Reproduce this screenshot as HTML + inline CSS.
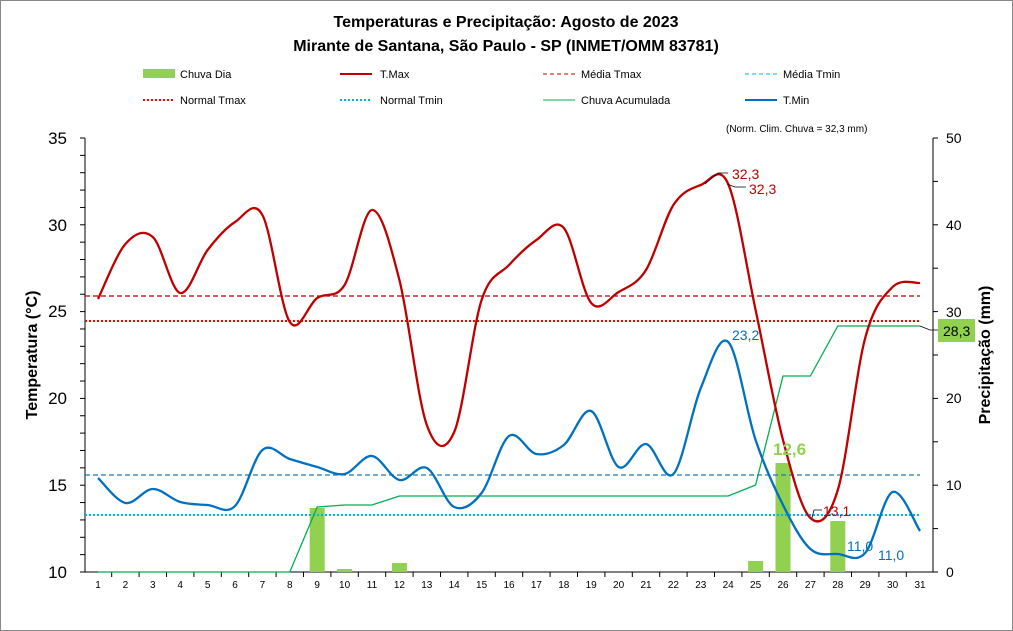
<!DOCTYPE html>
<html><head><meta charset="utf-8"><style>
html,body{margin:0;padding:0;background:#fff}
svg{display:block;font-family:"Liberation Sans",sans-serif}
</style></head><body>
<svg id="s" width="1013" height="631" viewBox="0 0 1013 631" xmlns="http://www.w3.org/2000/svg">
<rect x="0.5" y="0.5" width="1012" height="630" fill="#fff" stroke="#888"/>
<text x="506" y="27" text-anchor="middle" font-size="16" font-weight="bold">Temperaturas e Precipitação: Agosto de 2023</text>
<text x="506" y="51" text-anchor="middle" font-size="16" font-weight="bold">Mirante de Santana, São Paulo - SP (INMET/OMM 83781)</text>
<g font-size="11">
<rect x="143" y="69" width="32" height="9" fill="#92d050"/><text x="180" y="78">Chuva Dia</text>
<line x1="340" y1="74" x2="372" y2="74" stroke="#c00000" stroke-width="2"/><text x="380" y="78">T.Max</text>
<line x1="543" y1="74" x2="575" y2="74" stroke="#c00000" stroke-dasharray="4,3"/><text x="581" y="78">Média Tmax</text>
<line x1="745" y1="74" x2="777" y2="74" stroke="#00b0f0" stroke-dasharray="4,3"/><text x="783" y="78">Média Tmin</text>
<line x1="143" y1="100" x2="175" y2="100" stroke="#ff0000" stroke-width="2" stroke-dasharray="2,2"/><text x="180" y="104">Normal Tmax</text>
<line x1="340" y1="100" x2="372" y2="100" stroke="#00b0f0" stroke-width="2" stroke-dasharray="2,2"/><text x="380" y="104">Normal Tmin</text>
<line x1="543" y1="100" x2="575" y2="100" stroke="#00b050"/><text x="581" y="104">Chuva Acumulada</text>
<line x1="745" y1="100" x2="777" y2="100" stroke="#0070c0" stroke-width="2"/><text x="783" y="104">T.Min</text>
<text x="726" y="132" font-size="10">(Norm. Clim. Chuva = 32,3 mm)</text>
</g>
<g id="ax" stroke="#000"></g>
<g font-size="17" text-anchor="end">
<text x="67" y="144">35</text><text x="67" y="231">30</text><text x="67" y="317">25</text><text x="67" y="404">20</text><text x="67" y="491">15</text><text x="67" y="578">10</text>
</g>
<g font-size="14" text-anchor="start">
<text x="946" y="143">50</text><text x="946" y="230">40</text><text x="946" y="317">30</text><text x="946" y="403">20</text><text x="946" y="490">10</text><text x="946" y="577">0</text>
</g>
<text transform="translate(37,355) rotate(-90)" text-anchor="middle" font-size="16" font-weight="bold">Temperatura (°C)</text>
<text transform="translate(990,355) rotate(-90)" text-anchor="middle" font-size="16" font-weight="bold">Precipitação (mm)</text>
<g id="bars" fill="#92d050"></g>
<line x1="85" y1="296" x2="920" y2="296" stroke="#c00000" stroke-dasharray="5,3" stroke-width="1.3"/>
<line x1="85" y1="321" x2="920" y2="321" stroke="#ff0000" stroke-dasharray="2,2" stroke-width="2"/>
<line x1="85" y1="475" x2="920" y2="475" stroke="#1f77b4" stroke-dasharray="5,3" stroke-width="1.3"/>
<line x1="85" y1="515" x2="920" y2="515" stroke="#00b0f0" stroke-dasharray="2,2" stroke-width="2"/>
<polyline id="acc" fill="none" stroke="#00b050" stroke-width="1.3"/>
<path id="tmax" fill="none" stroke="#c00000" stroke-width="2.3"/>
<path id="tmin" fill="none" stroke="#0070c0" stroke-width="2.3"/>
<g font-size="14">
<text x="732" y="179" fill="#c00000">32,3</text><path d="M705 184 L718 173 L728 173" stroke="#000" fill="none" stroke-width="0.8"/>
<text x="749" y="194" fill="#c00000">32,3</text><path d="M727 184 L735 187 L746 187" stroke="#000" fill="none" stroke-width="0.8"/>
<text x="732" y="340" fill="#0070c0">23,2</text>
<text x="773" y="455" fill="#92d050" font-size="17" font-weight="bold">12,6</text>
<text x="823" y="516" fill="#c00000">13,1</text><path d="M812 518 L814 510 L822 510" stroke="#000" fill="none" stroke-width="0.8"/>
<text x="847" y="551" fill="#0070c0">11,0</text>
<text x="878" y="560" fill="#0070c0">11,0</text>
<rect x="938" y="319" width="37" height="23" fill="#92d050"/><text x="943" y="336" fill="#000">28,3</text>
<path d="M920 326 L930 330 L938 330" stroke="#000" fill="none" stroke-width="0.8"/>
</g>
</svg>
<script>
var X=function(d){return 98+(d-1)*27.4};
var ax=document.getElementById('ax'),h='';
h+='<line x1="85" y1="138" x2="85" y2="572"/><line x1="85" y1="572" x2="933" y2="572"/><line x1="933" y1="138" x2="933" y2="572"/>';
for(var v=10;v<=35;v++){var y=572-(v-10)*17.36;h+='<line x1="80" y1="'+y+'" x2="85" y2="'+y+'"/>';}
for(var m=0;m<=50;m+=5){var y=572-m*8.68;h+='<line x1="933" y1="'+y+'" x2="938" y2="'+y+'"/>';}
var lab='';
for(var d=1;d<=31;d++){var x=X(d)+13.7;if(d<31)h+='<line x1="'+x+'" y1="572" x2="'+x+'" y2="577"/>';lab+='<text x="'+X(d)+'" y="588" font-size="10" text-anchor="middle" stroke="none">'+d+'</text>';}
ax.innerHTML=h+lab;
var bars={9:508,10:569,12:563,25:561,26:463,28:521},b='';
for(var k in bars){b+='<rect x="'+(X(+k)-7.5)+'" y="'+bars[k]+'" width="15" height="'+(572-bars[k])+'"/>';}
document.getElementById('bars').innerHTML=b;
var acc=[572,572,572,572,572,572,572,572,507,505,505,496,496,496,496,496,496,496,496,496,496,496,496,496,485,376,376,326,326,326,326];
document.getElementById('acc').setAttribute('points',acc.map(function(y,i){return X(i+1)+','+y}).join(' '));
function sm(a){var p=a.map(function(y,i){return [X(i+1),y]});var s='M'+p[0][0]+' '+p[0][1];
for(var i=0;i<p.length-1;i++){var p0=p[i-1]||p[i],p1=p[i],p2=p[i+1],p3=p[i+2]||p2;
s+=' C'+(p1[0]+(p2[0]-p0[0])/6)+' '+(p1[1]+(p2[1]-p0[1])/6)+' '+(p2[0]-(p3[0]-p1[0])/6)+' '+(p2[1]-(p3[1]-p1[1])/6)+' '+p2[0]+' '+p2[1];}return s;}
document.getElementById('tmax').setAttribute('d',sm([299,244,237,293,250,222,215,322,298,285,210,280,425,432,300,265,240,228,303,292,270,205,185,184,310,440,518,490,338,287,283]));
document.getElementById('tmin').setAttribute('d',sm([478,503,489,502,505,506,450,459,467,474,456,480,468,507,493,436,454,445,411,467,444,474,388,342,440,505,549,554,553,492,531]));
</script>
</body></html>
